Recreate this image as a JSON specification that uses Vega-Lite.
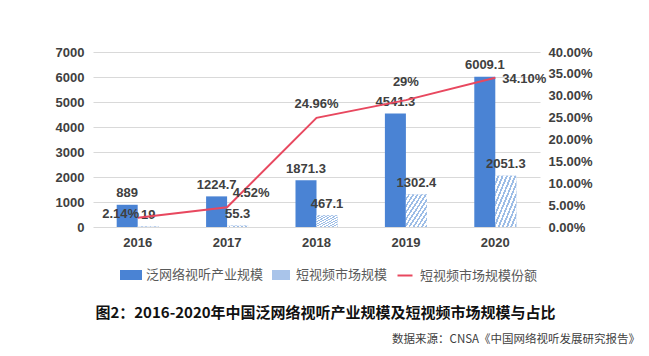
{
  "$schema": "https://vega.github.io/schema/vega-lite/v6.json",
  "padding": {"left": 55, "top": 46, "right": 0, "bottom": 0},
  "background": "white",
  "datasets": {
    "bars": [
      {"year": "2016", "series": "泛网络视听产业规模", "value": 889},
      {"year": "2016", "series": "短视频市场规模", "value": 19},
      {"year": "2017", "series": "泛网络视听产业规模", "value": 1224.7},
      {"year": "2017", "series": "短视频市场规模", "value": 55.3},
      {"year": "2018", "series": "泛网络视听产业规模", "value": 1871.3},
      {"year": "2018", "series": "短视频市场规模", "value": 467.1},
      {"year": "2019", "series": "泛网络视听产业规模", "value": 4541.3},
      {"year": "2019", "series": "短视频市场规模", "value": 1302.4},
      {"year": "2020", "series": "泛网络视听产业规模", "value": 6009.1},
      {"year": "2020", "series": "短视频市场规模", "value": 2051.3}
    ],
    "share": [
      {"year": "2016", "share": 0.0214, "label": "2.14%"},
      {"year": "2017", "share": 0.0452, "label": "4.52%"},
      {"year": "2018", "share": 0.2496, "label": "24.96%"},
      {"year": "2019", "share": 0.29, "label": "29%"},
      {"year": "2020", "share": 0.341, "label": "34.10%"}
    ]
  },
  "title": {
    "text": "数据来源：CNSA《中国网络视听发展研究报告》",
    "orient": "bottom",
    "anchor": "end",
    "frame": "bounds",
    "offset": 13,
    "dx": 48,
    "font": "Noto Sans CJK SC",
    "fontSize": 11.5,
    "fontWeight": "normal",
    "color": "#404040"
  },
  "resolve": {"scale": {"color": "independent"}},
  "vconcat": [
    {
      "width": 447,
      "height": 175,
      "title": {
        "text": "图2：2016-2020年中国泛网络视听产业规模及短视频市场规模与占比",
        "orient": "bottom",
        "anchor": "middle",
        "offset": 23,
        "dx": 9,
        "font": "Noto Sans CJK SC",
        "fontSize": 15,
        "fontWeight": "bold",
        "color": "#111111"
      },
      "encoding": {
        "x": {
          "field": "year",
          "type": "ordinal",
          "scale": {"paddingInner": 0.53, "paddingOuter": 0.265},
          "axis": {"orient": "bottom", "labelAngle": 0, "labelPadding": 9, "title": null, "grid": false, "domain": false, "ticks": false}
        }
      },
      "layer": [
        {
          "data": {"name": "bars"},
          "encoding": {
            "y": {
              "field": "value",
              "type": "quantitative",
              "scale": {"domain": [0, 7000], "nice": false},
              "axis": {"orient": "left", "grid": true, "values": [0, 1000, 2000, 3000, 4000, 5000, 6000, 7000], "format": "d", "labelPadding": 9, "title": null}
            },
            "xOffset": {
              "field": "series",
              "type": "nominal",
              "scale": {"domain": ["泛网络视听产业规模", "短视频市场规模"], "paddingInner": 0, "paddingOuter": 0}
            }
          },
          "layer": [
            {
              "mark": {"type": "bar"},
              "encoding": {
                "color": {
                  "field": "series",
                  "type": "nominal",
                  "scale": {
                    "domain": ["泛网络视听产业规模", "短视频市场规模", "短视频市场规模份额"],
                    "range": ["#4a83d4", "#a9c4ea", "#e8485f"]
                  },
                  "legend": {
                    "title": null,
                    "orient": "none",
                    "legendX": 27,
                    "legendY": 212,
                    "direction": "horizontal",
                    "symbolSize": 400,
                    "labelOffset": 4,
                    "columnPadding": 5,
                    "labelFont": "Noto Sans CJK SC",
                    "labelFontSize": 13,
                    "labelColor": "#595959",
                    "padding": 0,
                    "encode": {
                      "symbols": {
                        "update": {
                          "shape": {"signal": "datum.value === '短视频市场规模份额' ? 'M-0.75,0H0.75' : datum.value === '短视频市场规模' ? 'M-0.8,-0.4H0.8V0.4H-0.8Z' : 'M-1,-0.4H1V0.4H-1Z'"},
                          "fill": {"signal": "datum.value === '短视频市场规模份额' ? 'transparent' : datum.value === '短视频市场规模' ? {gradient: 'linear', x1: 0, y1: 0, x2: 1, y2: 1, stops: [{offset: 0, color: '#ffffff'}, {offset: 0.18, color: '#ffffff'}, {offset: 0.18, color: '#9dbde6'}, {offset: 0.333, color: '#9dbde6'}, {offset: 0.333, color: '#ffffff'}, {offset: 0.51, color: '#ffffff'}, {offset: 0.51, color: '#9dbde6'}, {offset: 0.667, color: '#9dbde6'}, {offset: 0.667, color: '#ffffff'}, {offset: 0.85, color: '#ffffff'}, {offset: 0.85, color: '#9dbde6'}, {offset: 1, color: '#9dbde6'}]} : '#4a83d4'"},
                          "stroke": {"signal": "datum.value === '短视频市场规模份额' ? '#e8485f' : 'transparent'"},
                          "strokeWidth": {"value": 2},
                          "opacity": {"value": 1}
                        }
                      }
                    }
                  }
                }
              }
            },
            {
              "transform": [{"filter": "datum.series === '短视频市场规模'"}],
              "mark": {
                "type": "bar",
                "fill": {
                  "gradient": "linear", "x1": 0, "y1": 0, "x2": 1, "y2": 1,
                  "stops": [
                    {"offset": 0, "color": "#ffffff"}, {"offset": 0.055, "color": "#ffffff"}, {"offset": 0.055, "color": "#9dbde6"}, {"offset": 0.1, "color": "#9dbde6"},
                    {"offset": 0.1, "color": "#ffffff"}, {"offset": 0.155, "color": "#ffffff"}, {"offset": 0.155, "color": "#9dbde6"}, {"offset": 0.2, "color": "#9dbde6"},
                    {"offset": 0.2, "color": "#ffffff"}, {"offset": 0.255, "color": "#ffffff"}, {"offset": 0.255, "color": "#9dbde6"}, {"offset": 0.3, "color": "#9dbde6"},
                    {"offset": 0.3, "color": "#ffffff"}, {"offset": 0.355, "color": "#ffffff"}, {"offset": 0.355, "color": "#9dbde6"}, {"offset": 0.4, "color": "#9dbde6"},
                    {"offset": 0.4, "color": "#ffffff"}, {"offset": 0.455, "color": "#ffffff"}, {"offset": 0.455, "color": "#9dbde6"}, {"offset": 0.5, "color": "#9dbde6"},
                    {"offset": 0.5, "color": "#ffffff"}, {"offset": 0.555, "color": "#ffffff"}, {"offset": 0.555, "color": "#9dbde6"}, {"offset": 0.6, "color": "#9dbde6"},
                    {"offset": 0.6, "color": "#ffffff"}, {"offset": 0.655, "color": "#ffffff"}, {"offset": 0.655, "color": "#9dbde6"}, {"offset": 0.7, "color": "#9dbde6"},
                    {"offset": 0.7, "color": "#ffffff"}, {"offset": 0.755, "color": "#ffffff"}, {"offset": 0.755, "color": "#9dbde6"}, {"offset": 0.8, "color": "#9dbde6"},
                    {"offset": 0.8, "color": "#ffffff"}, {"offset": 0.855, "color": "#ffffff"}, {"offset": 0.855, "color": "#9dbde6"}, {"offset": 0.9, "color": "#9dbde6"},
                    {"offset": 0.9, "color": "#ffffff"}, {"offset": 0.955, "color": "#ffffff"}, {"offset": 0.955, "color": "#9dbde6"}, {"offset": 1, "color": "#9dbde6"}
                  ]
                }
              },
              "encoding": {}
            },
            {
              "mark": {"type": "text", "baseline": "bottom", "dy": -4.5, "font": "Liberation Sans", "fontWeight": "bold", "fontSize": 13, "fill": "#404040"},
              "encoding": {"text": {"field": "value", "type": "quantitative"}}
            }
          ]
        },
        {
          "data": {"name": "share"},
          "encoding": {
            "y": {
              "field": "share",
              "type": "quantitative",
              "scale": {"domain": [0, 0.4], "nice": false},
              "axis": {"orient": "right", "grid": false, "values": [0, 0.05, 0.1, 0.15, 0.2, 0.25, 0.3, 0.35, 0.4], "format": ".2%", "labelPadding": 8, "title": null}
            }
          },
          "layer": [
            {
              "mark": {"type": "line", "strokeWidth": 2},
              "encoding": {"color": {"datum": "短视频市场规模份额"}}
            },
            {
              "transform": [{"filter": "datum.year === '2016'"}],
              "mark": {"type": "text", "dx": -17, "dy": -4, "font": "Liberation Sans", "fontWeight": "bold", "fontSize": 13, "fill": "#404040"},
              "encoding": {"text": {"field": "label"}}
            },
            {
              "transform": [{"filter": "datum.year === '2017'"}],
              "mark": {"type": "text", "dx": 24, "dy": -14, "font": "Liberation Sans", "fontWeight": "bold", "fontSize": 13, "fill": "#404040"},
              "encoding": {"text": {"field": "label"}}
            },
            {
              "transform": [{"filter": "datum.year === '2018'"}],
              "mark": {"type": "text", "dx": 0, "dy": -14, "font": "Liberation Sans", "fontWeight": "bold", "fontSize": 13, "fill": "#404040"},
              "encoding": {"text": {"field": "label"}}
            },
            {
              "transform": [{"filter": "datum.year === '2019'"}],
              "mark": {"type": "text", "dx": 0, "dy": -18, "font": "Liberation Sans", "fontWeight": "bold", "fontSize": 13, "fill": "#404040"},
              "encoding": {"text": {"field": "label"}}
            },
            {
              "transform": [{"filter": "datum.year === '2020'"}],
              "mark": {"type": "text", "dx": 29, "dy": 1, "font": "Liberation Sans", "fontWeight": "bold", "fontSize": 13, "fill": "#404040"},
              "encoding": {"text": {"field": "label"}}
            }
          ]
        }
      ],
      "resolve": {"scale": {"y": "independent"}}
    }
  ],
  "config": {
    "font": "Noto Sans CJK SC",
    "view": {"stroke": null},
    "axis": {
      "labelFont": "Liberation Sans",
      "labelFontWeight": "bold",
      "labelFontSize": 13,
      "labelColor": "#404040",
      "ticks": false,
      "domain": false,
      "gridColor": "#d9d9d9",
      "gridWidth": 1
    }
  }
}
